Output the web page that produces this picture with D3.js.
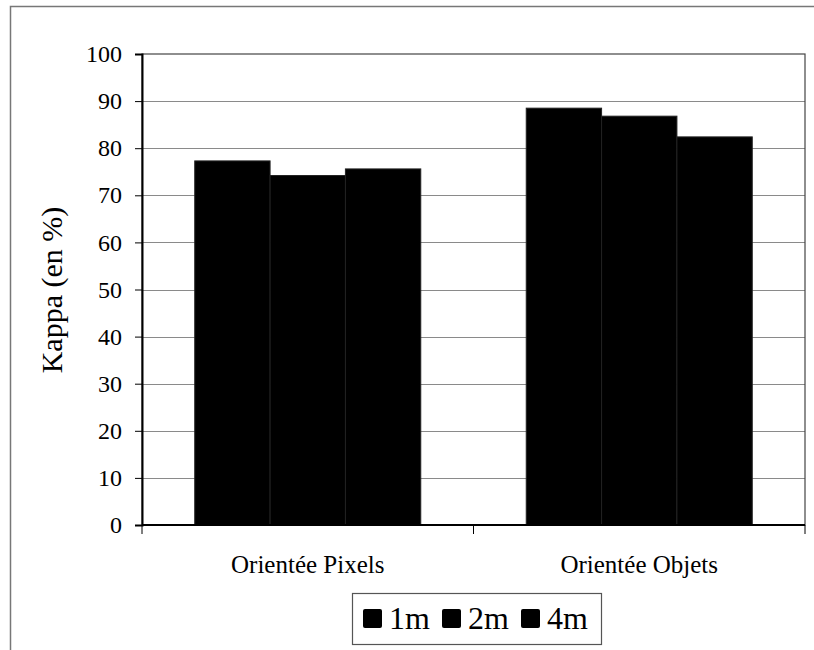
<!DOCTYPE html>
<html>
<head>
<meta charset="utf-8">
<script src="https://cdn.jsdelivr.net/npm/d3@7/dist/d3.min.js"></script>
<style>
  html, body { margin: 0; padding: 0; background: #fff; }
  svg { display: block; }
  svg text { font-family: 'Liberation Serif'; }
</style>
</head>
<body>
<svg id="chart" width="814" height="650"></svg>
<script>
// Kappa agreement by classification approach and resolution
const categories = ["Orientée Pixels", "Orientée Objets"];
const series = ["1m", "2m", "4m"];
const values1m = [77.3, 88.5];
const values2m = [74.2, 86.8];
const values4m = [75.6, 82.4];
const yTicks = [0, 10, 20, 30, 40, 50, 60, 70, 80, 90, 100];
const yLabel = "Kappa (en %)";

const FONT = "'Liberation Serif'";
const seriesValues = [values1m, values2m, values4m];
const rows = categories.map((c, i) => ({
  category: c,
  bars: series.map((s, j) => ({ key: s, value: seriesValues[j][i] }))
}));

const svg = d3.select("#chart");
const plot = { left: 142, right: 805, top: 54, bottom: 525 };

// outer chart frame
svg.append("path")
  .attr("d", "M10.5,660 V6.5 H824")
  .attr("fill", "none")
  .attr("stroke", "#777")
  .attr("stroke-width", 1.5);

const y = d3.scaleLinear().domain([0, 100]).range([plot.bottom, plot.top]);
const x0 = d3.scaleBand().domain(categories).range([plot.left, plot.right]).padding(0);
const x1 = d3.scaleBand().domain(series).range([0, x0.bandwidth()])
  .paddingInner(0).paddingOuter(0.7);

// gridlines
svg.append("g")
  .selectAll("line")
  .data(yTicks.filter(t => t > 0 && t < 100))
  .join("line")
  .attr("x1", plot.left).attr("x2", plot.right)
  .attr("y1", d => Math.round(y(d)) + 0.5).attr("y2", d => Math.round(y(d)) + 0.5)
  .attr("stroke", "#8a8a8a").attr("stroke-width", 1);

// plot area frame
svg.append("rect")
  .attr("x", plot.left).attr("y", plot.top)
  .attr("width", plot.right - plot.left).attr("height", plot.bottom - plot.top)
  .attr("fill", "none").attr("stroke", "#444").attr("stroke-width", 1.2);

// bars
svg.append("g")
  .selectAll("g")
  .data(rows)
  .join("g")
  .attr("transform", d => `translate(${x0(d.category)},0)`)
  .selectAll("rect")
  .data(d => d.bars)
  .join("rect")
  .attr("x", d => x1(d.key))
  .attr("y", d => y(d.value))
  .attr("width", x1.bandwidth())
  .attr("height", d => y(0) - y(d.value))
  .attr("fill", "#000")
  .attr("stroke", "#222")
  .attr("stroke-width", 1);

// y axis
const yAxis = d3.axisLeft(y).tickValues(yTicks).tickSize(7).tickPadding(13);
const gy = svg.append("g").attr("transform", `translate(${plot.left},0)`).call(yAxis);
gy.attr("font-family", null);
gy.select(".domain").attr("stroke", "#000").attr("stroke-width", 2);
gy.selectAll(".tick line").attr("stroke", "#000");
gy.selectAll(".tick text")
  .style("font-family", FONT)
  .style("font-size", "24px").attr("fill", "#000");

// x axis: ticks at category boundaries, labels at centers
const gx = svg.append("g").attr("transform", `translate(0,${plot.bottom})`);
gx.append("line")
  .attr("x1", plot.left).attr("x2", plot.right)
  .attr("stroke", "#000").attr("stroke-width", 2);
const boundaries = categories.map(c => x0(c)).concat([x0(categories[categories.length - 1]) + x0.bandwidth()]);
gx.selectAll("line.tick")
  .data(boundaries)
  .join("line")
  .attr("class", "tick")
  .attr("x1", d => d).attr("x2", d => d)
  .attr("y1", 0).attr("y2", 9)
  .attr("stroke", "#000");
gx.selectAll("text")
  .data(categories)
  .join("text")
  .attr("x", d => x0(d) + x0.bandwidth() / 2)
  .attr("y", 48)
  .attr("text-anchor", "middle")
  .style("font-family", FONT)
  .style("font-size", "25px")
  .attr("fill", "#000")
  .text(d => d);

// y axis title
svg.append("text")
  .attr("transform", "translate(62,290) rotate(-90)")
  .attr("text-anchor", "middle")
  .style("font-family", FONT)
  .style("font-size", "30px")
  .attr("fill", "#000")
  .text(yLabel);

// legend
const legend = svg.append("g").attr("transform", "translate(352,593)");
legend.append("rect")
  .attr("x", 0.5).attr("y", 0.5).attr("width", 249).attr("height", 51)
  .attr("fill", "#fff").attr("stroke", "#555").attr("stroke-width", 1.2);
const item = legend.selectAll("g.item")
  .data(series)
  .join("g")
  .attr("class", "item")
  .attr("transform", (d, i) => `translate(${11 + i * 79},0)`);
item.append("rect")
  .attr("x", 0).attr("y", 16).attr("width", 19).attr("height", 19)
  .attr("rx", 2)
  .attr("fill", "#000");
item.append("text")
  .attr("x", 26).attr("y", 36)
  .style("font-family", FONT)
  .style("font-size", "32px")
  .attr("fill", "#000")
  .text(d => d);
</script>
</body>
</html>
